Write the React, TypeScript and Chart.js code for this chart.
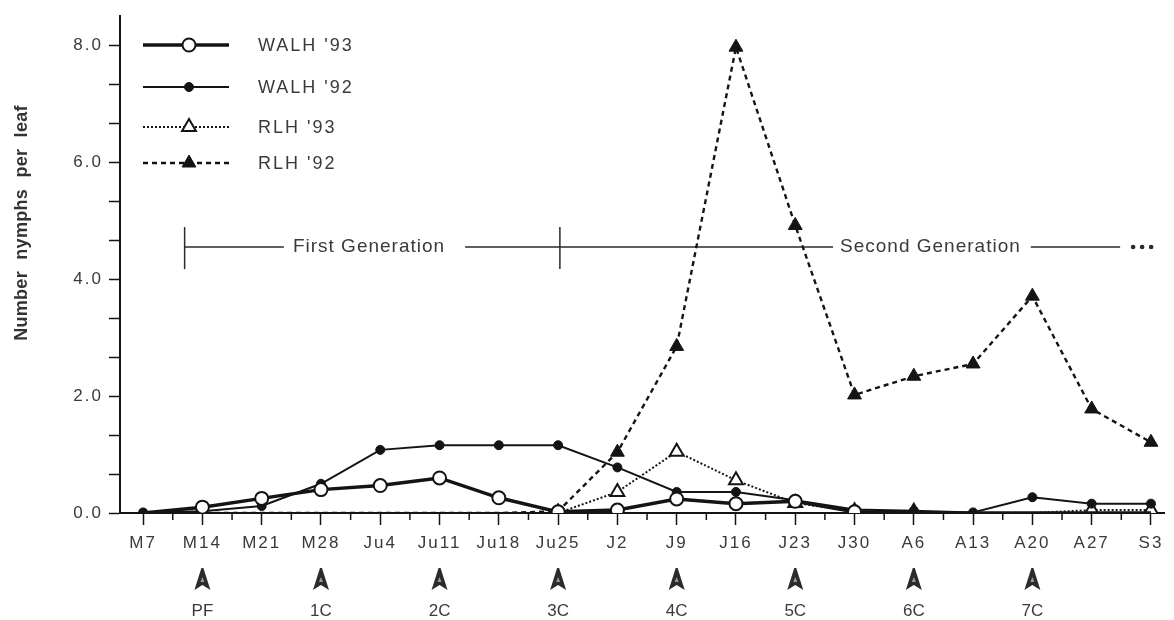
import { useEffect, useRef } from 'react';
import { Chart, registerables } from 'chart.js';
import { drawPoint } from 'chart.js/helpers';

Chart.register(...registerables);

// ---------- data ----------
const categories = ['M7', 'M14', 'M21', 'M28', 'Ju4', 'Ju11', 'Ju18', 'Ju25', 'J2', 'J9', 'J16', 'J23', 'J30', 'A6', 'A13', 'A20', 'A27', 'S3'];
const walh93 = [0, 0.1, 0.25, 0.4, 0.47, 0.6, 0.26, 0.02, 0.05, 0.24, 0.16, 0.2, 0.02, 0, 0, 0, 0, 0];
const walh92 = [0.01, 0.03, 0.12, 0.5, 1.08, 1.16, 1.16, 1.16, 0.78, 0.36, 0.36, 0.22, 0.06, 0.04, 0.01, 0.27, 0.16, 0.16];
const rlh93 = [0, 0, 0, 0, 0, 0, 0, 0, 0.36, 1.05, 0.56, 0.17, 0.03, 0.02, 0, 0, 0.05, 0.05];
const rlh92 = [0, 0, 0, 0, 0, 0, 0, 0.03, 1.04, 2.85, 7.97, 4.92, 2.02, 2.34, 2.55, 3.71, 1.78, 1.21];
const seriesNames = ["WALH '93", "WALH '92", "RLH '93", "RLH '92"];

const yTickValues = [0, 2 / 3, 4 / 3, 2, 8 / 3, 10 / 3, 4, 14 / 3, 16 / 3, 6, 20 / 3, 22 / 3, 8];
const yLabelValues = [0, 2, 4, 6, 8];

const sprayIndex = [1, 3, 5, 7, 9, 11, 13, 15];
const sprayLabels = ['PF', '1C', '2C', '3C', '4C', '5C', '6C', '7C'];

const genLevel = 4.55;
const genBars = [0.7, 7.03];
const genTexts = ['First Generation', 'Second Generation'];
const genTextCenters = [3.81, 13.28];
const genEnd = 16.48;

const yTitle = 'Number nymphs per leaf';

const FONT = '"Liberation Sans", Arial, Helvetica, sans-serif';
const INK = '#141414';
const TEXT = '#3a3a3a';

const toPts = (arr: number[]) => arr.map((v, i) => ({ x: i, y: v }));
const hideZero = (r: number) => (ctx: any) => (ctx.raw && ctx.raw.y === 0 ? 0 : r);

const letterSpacingPlugin = {
  id: 'letterSpacing',
  beforeDraw(chart: any) {
    (chart.ctx as any).letterSpacing = '2px';
  },
};

const annotationPlugin = {
  id: 'annot',
  beforeDatasetsDraw(chart: any) {
    const { ctx } = chart;
    const xs = chart.scales.x;
    const ys = chart.scales.y;
    const y = ys.getPixelForValue(genLevel);
    ctx.save();
    ctx.strokeStyle = '#2a2a2a';
    ctx.lineWidth = 1.5;
    ctx.font = `19px ${FONT}`;
    (ctx as any).letterSpacing = '1px';
    ctx.fillStyle = TEXT;
    ctx.textAlign = 'center';
    ctx.textBaseline = 'middle';
    genBars.forEach((b) => {
      const px = xs.getPixelForValue(b);
      ctx.beginPath();
      ctx.moveTo(px, y - 20);
      ctx.lineTo(px, y + 22);
      ctx.stroke();
    });
    const startX = xs.getPixelForValue(genBars[0]);
    const endX = xs.getPixelForValue(genEnd);
    const w1 = ctx.measureText(genTexts[0]).width;
    const w2 = ctx.measureText(genTexts[1]).width;
    const c1 = xs.getPixelForValue(genTextCenters[0]);
    const c2 = xs.getPixelForValue(genTextCenters[1]);
    const segs = [
      [startX, c1 - w1 / 2 - 9],
      [c1 + w1 / 2 + 20, c2 - w2 / 2 - 7],
      [c2 + w2 / 2 + 10, endX],
    ];
    segs.forEach(([a, b]) => {
      ctx.beginPath();
      ctx.moveTo(a, y);
      ctx.lineTo(b, y);
      ctx.stroke();
    });
    ctx.fillText(genTexts[0], c1, y);
    ctx.fillText(genTexts[1], c2, y);
    ctx.fillStyle = '#2a2a2a';
    for (let k = 0; k < 3; k++) {
      ctx.beginPath();
      ctx.arc(endX + 13 + k * 9, y, 2.3, 0, Math.PI * 2);
      ctx.fill();
    }
    ctx.restore();
  },
};

const extrasPlugin = {
  id: 'extras',
  afterDraw(chart: any) {
    const { ctx, chartArea } = chart;
    const xs = chart.scales.x;
    ctx.save();
    // minor x ticks
    ctx.strokeStyle = INK;
    ctx.lineWidth = 1.5;
    for (let i = 0; i < categories.length; i++) {
      const px = xs.getPixelForValue(i + 0.5);
      if (px > chartArea.right) continue;
      ctx.beginPath();
      ctx.moveTo(px, chartArea.bottom);
      ctx.lineTo(px, chartArea.bottom + 7);
      ctx.stroke();
    }
    // spray arrows + labels
    sprayIndex.forEach((idx, k) => {
      const px = xs.getPixelForValue(idx);
      const cy = 579;
      ctx.fillStyle = '#2b2b2b';
      ctx.beginPath();
      ctx.moveTo(px - 1, cy - 11);
      ctx.lineTo(px + 1, cy - 11);
      ctx.lineTo(px + 8, cy + 11);
      ctx.lineTo(px, cy + 6);
      ctx.lineTo(px - 8, cy + 11);
      ctx.closePath();
      ctx.fill();
      ctx.fillStyle = '#9a9a9a';
      ctx.beginPath();
      ctx.moveTo(px, cy - 2);
      ctx.lineTo(px + 2, cy + 3);
      ctx.lineTo(px - 2, cy + 3);
      ctx.closePath();
      ctx.fill();
      ctx.fillStyle = TEXT;
      ctx.font = `17px ${FONT}`;
      (ctx as any).letterSpacing = '0px';
      ctx.textAlign = 'center';
      ctx.textBaseline = 'middle';
      ctx.fillText(sprayLabels[k], px, 611);
    });
    // y title
    ctx.save();
    ctx.translate(22, 223);
    ctx.rotate(-Math.PI / 2);
    ctx.font = `bold 18px ${FONT}`;
    (ctx as any).letterSpacing = '0.3px';
    (ctx as any).wordSpacing = '6px';
    ctx.fillStyle = '#333';
    ctx.textAlign = 'center';
    ctx.textBaseline = 'middle';
    ctx.fillText(yTitle, 0, 0);
    ctx.restore();
    // legend
    const rows = [45, 87, 127, 163];
    chart.data.datasets.forEach((ds: any, i: number) => {
      const ry = rows[i];
      ctx.save();
      ctx.strokeStyle = ds.borderColor;
      ctx.lineWidth = ds.borderWidth;
      ctx.setLineDash(ds.borderDash || []);
      ctx.beginPath();
      ctx.moveTo(143, ry);
      ctx.lineTo(229, ry);
      ctx.stroke();
      ctx.setLineDash([]);
      ctx.fillStyle = ds.pointBackgroundColor;
      ctx.strokeStyle = ds.pointBorderColor;
      ctx.lineWidth = ds.pointBorderWidth;
      drawPoint(ctx, { pointStyle: ds.pointStyle, radius: ds.legendRadius, borderWidth: ds.pointBorderWidth, rotation: 0 }, 189, ry);
      ctx.fillStyle = TEXT;
      ctx.font = `18px ${FONT}`;
      (ctx as any).letterSpacing = '2px';
      ctx.textAlign = 'left';
      ctx.textBaseline = 'middle';
      ctx.fillText(seriesNames[i], 258, ry + 1);
      ctx.restore();
    });
    ctx.restore();
  },
};

export default function App() {
  const ref = useRef<HTMLCanvasElement | null>(null);
  useEffect(() => {
    if (!ref.current) return;
    const chart = new Chart(ref.current, {
      type: 'line',
      data: {
        datasets: [
          {
            label: seriesNames[0],
            data: toPts(walh93),
            borderColor: INK,
            borderWidth: 3.5,
            pointStyle: 'circle',
            pointRadius: hideZero(6.5),
            legendRadius: 6.5,
            pointBackgroundColor: '#ffffff',
            pointBorderColor: INK,
            pointBorderWidth: 2,
          } as any,
          {
            label: seriesNames[1],
            data: toPts(walh92),
            borderColor: INK,
            borderWidth: 2,
            pointStyle: 'circle',
            pointRadius: hideZero(4.5),
            legendRadius: 4.5,
            pointBackgroundColor: INK,
            pointBorderColor: INK,
            pointBorderWidth: 1,
          } as any,
          {
            label: seriesNames[2],
            data: toPts(rlh93),
            borderColor: INK,
            borderWidth: 2,
            borderDash: [2, 2],
            pointStyle: 'triangle',
            pointRadius: hideZero(8),
            legendRadius: 8,
            pointBackgroundColor: '#ffffff',
            pointBorderColor: INK,
            pointBorderWidth: 2,
          } as any,
          {
            label: seriesNames[3],
            data: toPts(rlh92),
            borderColor: INK,
            borderWidth: 2.4,
            borderDash: [5, 4],
            pointStyle: 'triangle',
            pointRadius: hideZero(8),
            legendRadius: 8,
            pointBackgroundColor: INK,
            pointBorderColor: INK,
            pointBorderWidth: 1,
          } as any,
        ],
      },
      options: {
        responsive: false,
        animation: false,
        devicePixelRatio: 1,
        layout: { padding: { top: 15, right: 3, left: 0, bottom: 0 } },
        plugins: { legend: { display: false }, tooltip: { enabled: false } },
        elements: { line: { tension: 0 } },
        scales: {
          x: {
            type: 'linear',
            min: -0.39,
            max: 17.22,
            afterBuildTicks: (s: any) => {
              s.ticks = categories.map((_, i) => ({ value: i }));
            },
            afterFit: (s: any) => {
              s.height = 107;
            },
            ticks: {
              autoSkip: false,
              maxRotation: 0,
              padding: 8,
              color: TEXT,
              font: { family: FONT, size: 17 },
              callback: (v: any) => categories[Math.round(Number(v))] ?? '',
            },
            grid: { drawOnChartArea: false, drawTicks: true, tickLength: 12, tickColor: INK, tickWidth: 1.5 },
            border: { color: INK, width: 2 },
          },
          y: {
            type: 'linear',
            min: 0,
            max: 8.5,
            afterBuildTicks: (s: any) => {
              s.ticks = yTickValues.map((v) => ({ value: v }));
            },
            afterFit: (s: any) => {
              s.width = 120;
            },
            ticks: {
              padding: 6,
              color: TEXT,
              font: { family: FONT, size: 17 },
              callback: (v: any) => {
                const n = Number(v);
                const hit = yLabelValues.find((l) => Math.abs(l - n) < 1e-6);
                return hit === undefined ? '' : hit.toFixed(1);
              },
            },
            grid: { drawOnChartArea: false, drawTicks: true, tickLength: 11, tickColor: INK, tickWidth: 1.5 },
            border: { color: INK, width: 2 },
          },
        },
      } as any,
      plugins: [letterSpacingPlugin, annotationPlugin, extrasPlugin],
    });
    return () => chart.destroy();
  }, []);
  return (
    <div style={{ position: 'fixed', left: 0, top: 0, width: 1174, height: 620, background: '#fff' }}>
      <canvas ref={ref} width={1174} height={620} />
    </div>
  );
}
